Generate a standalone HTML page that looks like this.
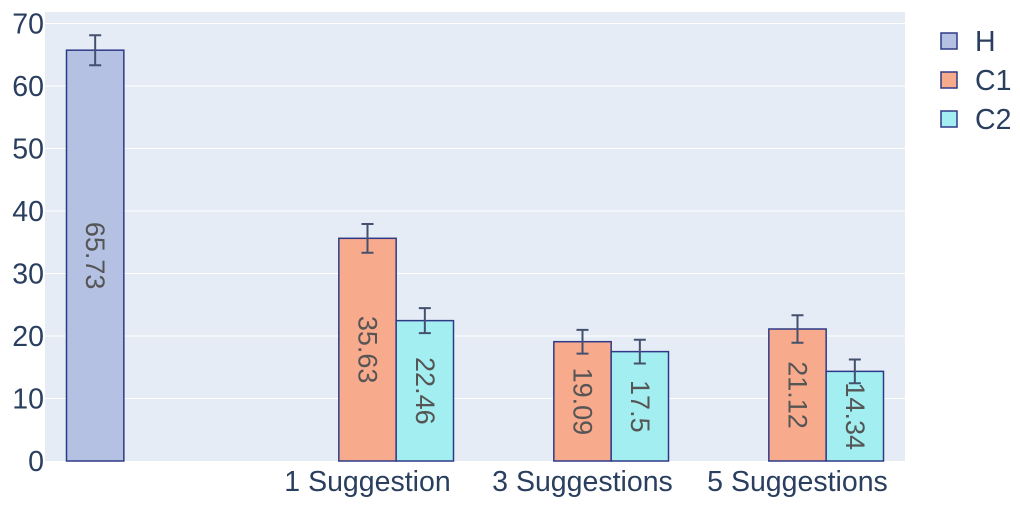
<!DOCTYPE html>
<html><head><meta charset="utf-8"><style>
body{margin:0;background:#fff;width:1020px;height:504px;overflow:hidden}
svg text{font-family:"Liberation Sans",sans-serif}
</style></head><body>
<svg id="chart" width="1020" height="504"></svg>
<script>
const categories=["","1 Suggestion","3 Suggestions","5 Suggestions"];
const seriesNames=["H","C1","C2"];
const hValues=[65.73,null,null,null];
const c1Values=[null,35.63,19.09,21.12];
const c2Values=[null,22.46,17.5,14.34];
const hErrors=[2.4,null,null,null];
const c1Errors=[null,2.3,1.9,2.2];
const c2Errors=[null,2.0,1.9,1.9];
const yTicks=[0,10,20,30,40,50,60,70];

const NS="http://www.w3.org/2000/svg";
const svg=document.getElementById('chart');
const X0=45,X1=905,Y0=461,YT=12,pxPer=6.25;
const gw=215;
const FS=28.5, LFS=27;
function y(v){return Y0-v*pxPer;}
function gx(i){return X0+gw*(i+0.5);}
function mk(t,a){const e=document.createElementNS(NS,t);for(const k in a)e.setAttribute(k,a[k]);svg.appendChild(e);return e;}
const bg=mk('rect',{x:X0,y:YT,width:X1-X0,height:Y0-YT,fill:'#e5ecf6'});


yTicks.forEach(t=>{
  if(t>0){const l=mk('line',{x1:X0,x2:X1,y1:y(t),y2:y(t),stroke:'#fff','stroke-width':1});
  
  }
  const tx=mk('text',{x:X0-1,y:y(t)+10,'text-anchor':'end','font-size':FS,fill:'#2a3f5f'});tx.textContent=t;
  
  
});
categories.forEach((c,i)=>{
  const tx=mk('text',{x:gx(i),y:491,'text-anchor':'middle','font-size':FS,fill:'#2a3f5f'});tx.textContent=c;
  
  
});
const series=[[hValues,hErrors,'#b4c1e3'],[c1Values,c1Errors,'#f8aa8c'],[c2Values,c2Errors,'#a3eef0']];
const bw=gw*0.8/3;
series.forEach(([vals,errs,col],s)=>{
  vals.forEach((v,i)=>{
    if(v==null)return;
    const left=gx(i)-gw*0.4+s*bw;
    const r=mk('rect',{x:left,y:y(v),width:bw,height:Y0-y(v),fill:col,stroke:'#2e3a87','stroke-width':1.5});
    
    
    const cx=left+bw/2,e=errs[i];
    const cy=(y(v)+Y0)/2;
    const t=mk('text',{x:0,y:0,'font-size':LFS,fill:'#555','text-anchor':'middle','dominant-baseline':'central',transform:`translate(${cx},${cy}) rotate(90)`});
    t.textContent=v;
    
    
    const eb=mk('path',{d:`M${cx},${y(v+e)}V${y(v-e)}M${cx-6},${y(v+e)}H${cx+6}M${cx-6},${y(v-e)}H${cx+6}`,stroke:'#44506e','stroke-width':2,fill:'none'});
    
    
  });
});
seriesNames.forEach((n,s)=>{
  const yy=41+s*39;
  const r=mk('rect',{x:941,y:yy-8,width:16,height:16,fill:series[s][2],stroke:'#2e3a87','stroke-width':1.5});
  
  
  const t=mk('text',{x:975,y:yy+10,'font-size':FS,fill:'#2a3f5f'});t.textContent=n;
  
  
});
</script>
</body></html>
